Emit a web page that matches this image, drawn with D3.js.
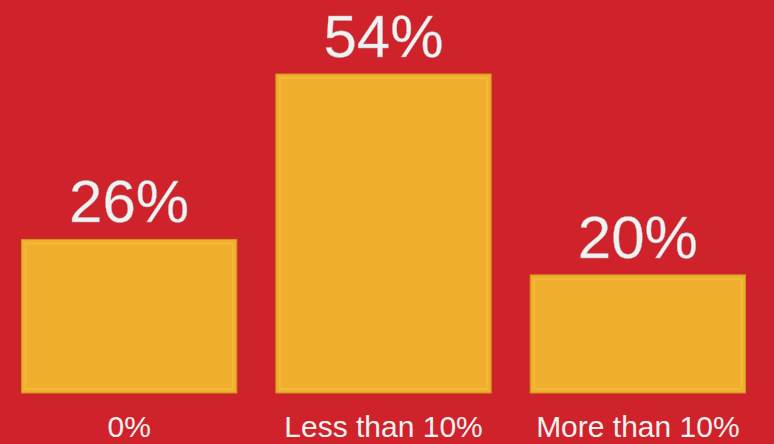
<!DOCTYPE html>
<html>
<head>
<meta charset="utf-8">
<script src="https://cdn.jsdelivr.net/npm/d3@7"></script>
<style>
  html, body { margin: 0; padding: 0; background: #d0222a; }
  svg { display: block; }
  text { font-family: "Liberation Sans", Arial, sans-serif; }
</style>
</head>
<body>
<svg id="chart" width="774" height="444"></svg>
<script>
// data
const categories = ['0%', 'Less than 10%', 'More than 10%'];
const shares = [26, 54, 20];
const valueLabels = ['26%', '54%', '20%'];

const svg = d3.select('#chart');
const W = 774, H = 444;

svg.append('rect')
    .attr('width', W)
    .attr('height', H)
    .attr('fill', '#d0222a');

const x = d3.scaleBand()
    .domain(categories)
    .range([21.5, 745.5])
    .paddingInner(0.1535)
    .paddingOuter(0);

const y = d3.scaleLinear()
    .domain([0, 54])
    .range([393, 74]);

const rows = categories.map((c, i) => ({ cat: c, v: shares[i], label: valueLabels[i] }));

// bars
const bars = svg.selectAll('g.bar')
    .data(rows)
    .join('g')
    .attr('class', 'bar');

bars.append('rect')
    .attr('x', d => x(d.cat))
    .attr('y', d => y(d.v))
    .attr('width', x.bandwidth())
    .attr('height', d => y(0) - y(d.v))
    .attr('fill', '#efae2d')
    .attr('stroke', '#c9961c')
    .attr('stroke-width', 1);

// faint inner bevel
bars.append('rect')
    .attr('x', d => x(d.cat) + 4)
    .attr('y', d => y(d.v) + 4)
    .attr('width', x.bandwidth() - 8)
    .attr('height', d => y(0) - y(d.v) - 8)
    .attr('fill', 'none')
    .attr('stroke', '#f6be3c')
    .attr('stroke-width', 2)
    .attr('opacity', 0.7);

// value labels above bars
bars.append('text')
    .attr('x', d => x(d.cat) + x.bandwidth() / 2)
    .attr('y', d => y(d.v) - 17)
    .attr('text-anchor', 'middle')
    .attr('font-size', 60)
    .attr('fill', '#f1f1f1')
    .attr('stroke', '#b0b0b0')
    .attr('stroke-width', 0.4)
    .text(d => d.label);

// category labels
const xAxis = d3.axisBottom(x).tickSize(0).tickPadding(0);
const ax = svg.append('g')
    .attr('transform', 'translate(0,416)')
    .call(xAxis);
ax.select('.domain').remove();
ax.selectAll('text')
    .attr('dy', 0)
    .attr('y', 21)
    .attr('font-size', 30)
    .attr('font-family', '"Liberation Sans", Arial, sans-serif')
    .attr('fill', '#f1f1f1');
</script>
</body>
</html>
